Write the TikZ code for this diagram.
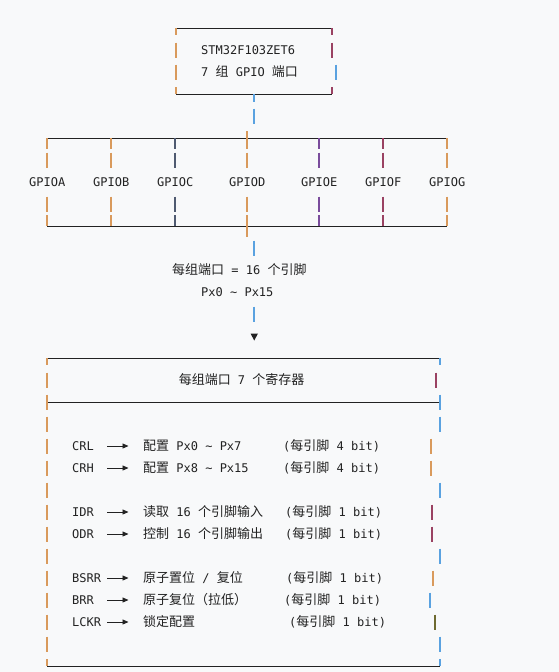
\documentclass[tikz,border=0pt]{standalone}
\usepackage{fontspec}
\setmonofont{DejaVu Sans Mono}
\newfontfamily\monof{DejaVu Sans Mono}
\newfontfamily\cjkf{Noto Sans CJK SC}
\usetikzlibrary{arrows.meta}
\definecolor{bgc}{HTML}{F8F9FA}
\definecolor{ink}{HTML}{222222}
\definecolor{cor}{HTML}{D99A5C}
\definecolor{cbl}{HTML}{5AA2E0}
\definecolor{cma}{HTML}{9A4262}
\definecolor{cpu}{HTML}{7A4C9C}
\definecolor{cdp}{HTML}{4F5A70}
\definecolor{col}{HTML}{6E6A30}
\newcommand{\C}[1]{{\cjkf\fontsize{13}{15}\selectfont #1}}
\newcommand{\vb}[4]{\draw[barline,#4] (#1,#2) -- (#1,#3);}
\newcommand{\rb}[3]{\vb{#1}{#2-7.5}{#2+7.5}{#3}}
\tikzset{
  frame/.style={draw=ink,line width=1pt},
  barline/.style={line width=1.4pt},
  txt/.style={inner sep=0pt,anchor=base west,text=ink,font=\monof\fontsize{12}{14}\selectfont},
  regarrow/.style={draw=ink,line width=0.9pt,-{Triangle[length=6pt,width=5pt]}}
}
\begin{document}
\begin{tikzpicture}[x=1pt,y=-1pt]
\fill[bgc] (0,0) rectangle (559,672);
\useasboundingbox (0,0) rectangle (559,672);

% ---------- top box ----------
\coordinate (tl) at (176,28); \coordinate (tr) at (332,28);
\coordinate (bl) at (176,94); \coordinate (br) at (332,94);
\draw[frame] (tl) -- (tr);
\draw[frame] (bl) -- (br);
\vb{176}{28}{35}{cor}
\rb{176}{50}{cor}
\rb{176}{72}{cor}
\vb{176}{87}{94}{cor}
\vb{332}{28}{35}{cma}
\rb{332}{50}{cma}
\rb{336}{72}{cbl}
\vb{332}{87}{94}{cma}
\node[txt] (chip) at (201,54.5) {STM32F103ZET6};
\node[txt] (ports) at (201,76.5) {7 \C{组} GPIO \C{端口}};

% connector top box -> GPIO bus
\coordinate (c0) at (254,94);
\coordinate (c1) at (254,102);
\coordinate (c2) at (254,108.5);
\coordinate (c3) at (254,123.5);
\draw[barline,cbl] (c0) -- (c1);
\draw[barline,cbl] (c2) -- (c3);

% ---------- GPIO bus ----------
\coordinate (gtl) at (47,138); \coordinate (gtr) at (447,138);
\coordinate (gbl) at (47,226); \coordinate (gbr) at (447,226);
\draw[frame] (gtl) -- (gtr);
\draw[frame] (gbl) -- (gbr);
\foreach \x/\c/\n in {47/cor/A,111/cor/B,175/cdp/C,319/cpu/E,383/cma/F,447/cor/G}{
  \vb{\x}{138}{149}{\c}
  \rb{\x}{160}{\c}
  \rb{\x}{204}{\c}
  \vb{\x}{215}{226}{\c}
}
\vb{247}{131}{149}{cor}
\rb{247}{160}{cor}
\rb{247}{204}{cor}
\vb{247}{215}{237}{cor}
\node[txt] (ga) at (29,186.5) {GPIOA};
\node[txt] (gb) at (93,186.5) {GPIOB};
\node[txt] (gc) at (157,186.5) {GPIOC};
\node[txt] (gd) at (229,186.5) {GPIOD};
\node[txt] (ge) at (301,186.5) {GPIOE};
\node[txt] (gf) at (365,186.5) {GPIOF};
\node[txt] (gg) at (429,186.5) {GPIOG};

% ---------- pins ----------
\coordinate (d0) at (254,240.5); \coordinate (d1) at (254,255.5);
\draw[barline,cbl] (d0) -- (d1);
\node[txt] (pins) at (172,274.5) {\C{每组端口} = 16 \C{个引脚}};
\node[txt] (pxr) at (201,296.5) {Px0 \textasciitilde{} Px15};
\coordinate (d2) at (254,306.5); \coordinate (d3) at (254,321.5);
\draw[barline,cbl] (d2) -- (d3);
\fill[ink] (250.5,333.5) -- (258,333.5) -- (254.25,340.5) -- cycle;

% ---------- register box ----------
\coordinate (rtl) at (47,358); \coordinate (rtr) at (440,358);
\coordinate (rml) at (47,402); \coordinate (rmr) at (440,402);
\coordinate (rbl) at (47,666); \coordinate (rbr) at (440,666);
\draw[frame] (rtl) -- (rtr);
\draw[frame] (rml) -- (rmr);
\draw[frame] (rbl) -- (rbr);
\vb{47}{358}{365}{cor}
\foreach \y in {380,402,424,446,468,490,512,534,556,578,600,622,644}{\rb{47}{\y}{cor}}
\vb{47}{659}{666}{cor}
\vb{440}{358}{365}{cbl}
\rb{436}{380}{cma}
\rb{440}{402}{cbl}
\rb{440}{424}{cbl}
\rb{431}{446}{cor}
\rb{431}{468}{cor}
\rb{432}{512}{cma}
\rb{432}{534}{cma}
\rb{440}{490}{cbl}
\rb{440}{556}{cbl}
\rb{433}{578}{cor}
\rb{430}{600}{cbl}
\rb{435}{622}{col}
\rb{440}{644}{cbl}
\vb{440}{659}{666}{cbl}

\node[txt,anchor=base] (title) at (241.6,384.5) {\C{每组端口} 7 \C{个寄存器}};

\foreach \nm/\y/\desc/\px/\note in {
  CRL/446/{\C{配置} Px0 \textasciitilde{} Px7}/283/4,
  CRH/468/{\C{配置} Px8 \textasciitilde{} Px15}/283/4,
  IDR/512/{\C{读取} 16 \C{个引脚输入}}/285/1,
  ODR/534/{\C{控制} 16 \C{个引脚输出}}/285/1,
  BSRR/578/{\C{原子置位} / \C{复位}}/286/1,
  BRR/600/{\C{原子复位（拉低）}}/284/1,
  LCKR/622/{\C{锁定配置}}/289/1}{
  \node[txt] (n\nm) at (72,\y+4.5) {\nm};
  \node[txt] (d\nm) at (143,\y+4.5) {\desc};
  \node[txt] (p\nm) at (\px,\y+4.5) {(\C{每引脚} \note{} bit)};
  \coordinate (as\nm) at (107,\y);
  \coordinate (ae\nm) at (128.5,\y);
  \draw[regarrow] (as\nm) -- (ae\nm);
}
\end{tikzpicture}
\end{document}
